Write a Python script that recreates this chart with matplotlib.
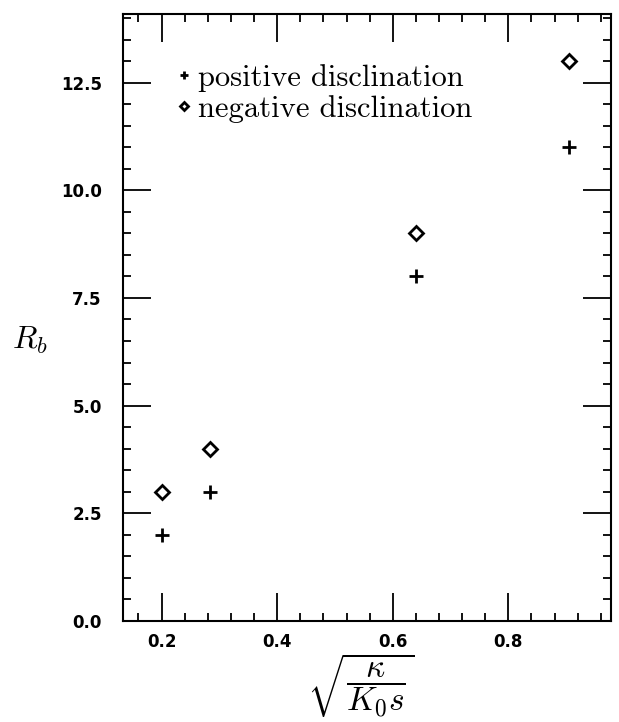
import matplotlib
matplotlib.use("Agg")
import matplotlib.pyplot as plt
from matplotlib.ticker import MultipleLocator, FormatStrFormatter

plt.rcParams['mathtext.fontset'] = 'cm'

x_vals = [0.2, 0.283, 0.64, 0.905]
positive = [2, 3, 8, 11]
negative = [3, 4, 9, 13]
labels = ["positive disclination", "negative disclination"]

fig = plt.figure(figsize=(6.19, 7.22), dpi=100)
ax = fig.add_axes([0.198, 0.140, 0.789, 0.841])

ax.plot(x_vals, positive, linestyle='none', marker='+', markersize=10,
        markeredgewidth=2, color='black', label=labels[0])
ax.plot(x_vals, negative, linestyle='none', marker='D', markersize=7,
        markeredgewidth=2, markerfacecolor='white', markeredgecolor='black',
        label=labels[1])

ax.set_xlim(0.1325, 0.9775)
ax.set_ylim(0, 14.1)

ax.xaxis.set_major_locator(MultipleLocator(0.2))
ax.xaxis.set_minor_locator(MultipleLocator(0.04))
ax.yaxis.set_major_locator(MultipleLocator(2.5))
ax.yaxis.set_minor_locator(MultipleLocator(0.5))
ax.xaxis.set_major_formatter(FormatStrFormatter('%.1f'))
ax.yaxis.set_major_formatter(FormatStrFormatter('%.1f'))

ax.tick_params(which='both', direction='in', top=True, right=True, width=1.3, color='black')
ax.tick_params(which='major', length=20)
ax.tick_params(which='minor', length=6)
ax.tick_params(axis='x', pad=9)
ax.tick_params(axis='y', pad=15)
for lab in ax.get_xticklabels() + ax.get_yticklabels():
    lab.set_fontfamily('DejaVu Sans')
    lab.set_fontweight('bold')
    lab.set_fontsize(12)
for s in ax.spines.values():
    s.set_linewidth(1.5)

ax.set_xlabel(r'$\sqrt{\dfrac{\kappa}{K_0 s}}$', fontsize=24)
ax.xaxis.set_label_coords(0.488, -0.05, transform=ax.transAxes)
ax.xaxis.label.set_verticalalignment('top')
ax.set_ylabel(r'$R_b$', fontsize=23, rotation=0)
ax.yaxis.set_label_coords(-0.19, 0.463)
ax.yaxis.label.set_verticalalignment('center')
ax.yaxis.label.set_horizontalalignment('center')

leg = ax.legend(loc='upper left', bbox_to_anchor=(0.111, 0.917), frameon=False,
                markerscale=0.55, handlelength=0.5, handletextpad=0.18,
                labelspacing=0.1, borderaxespad=0, borderpad=0,
                prop={'family': 'cmr10', 'size': 22})

fig.savefig('out.png', dpi=100)
